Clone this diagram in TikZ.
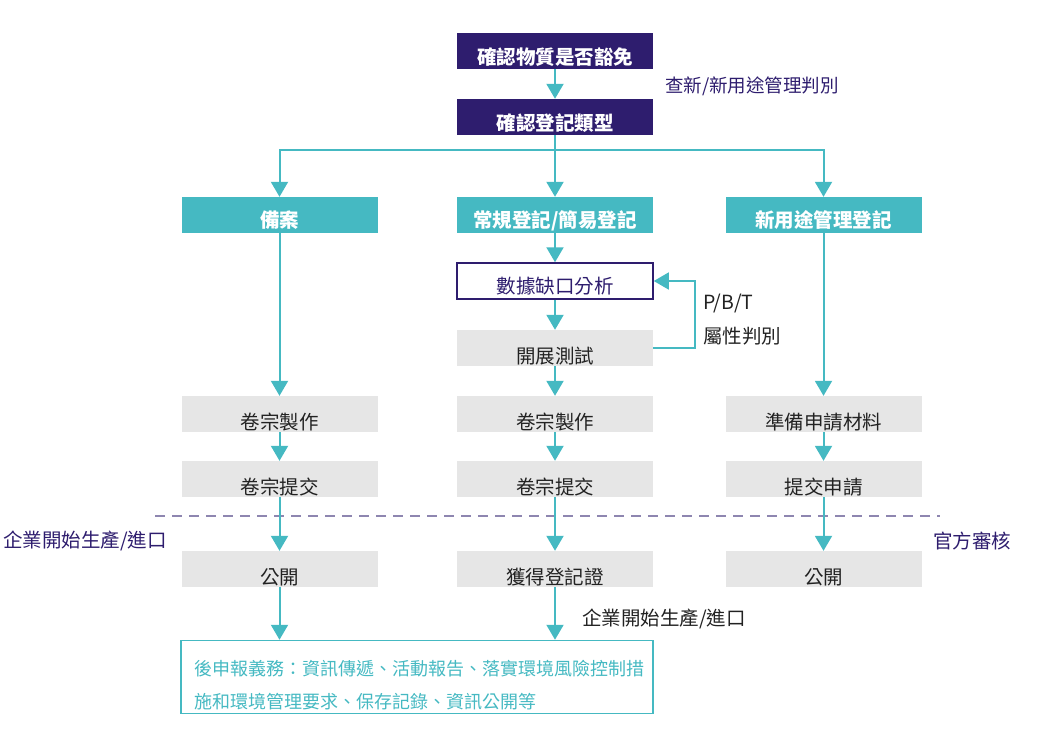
\documentclass[tikz,border=0pt]{standalone}
\usepackage{fontspec}
\setmainfont{Noto Sans CJK TC}
\usetikzlibrary{arrows.meta}
\definecolor{navy}{HTML}{2E1D6E}
\definecolor{teal1}{HTML}{45B9C2}
\definecolor{grey1}{HTML}{E6E6E6}
\definecolor{ink}{HTML}{222222}
\definecolor{dashc}{HTML}{8E86B0}
\begin{document}
\begin{tikzpicture}[x=1pt,y=-1pt,
  base/.style={minimum width=196pt, minimum height=36pt, inner sep=0pt, text height=31pt, text depth=0pt, font=\fontsize{19.5}{22}\selectfont},
  navybox/.style={base, fill=navy, text=white, font=\fontsize{19.5}{22}\selectfont\bfseries, text height=26.4pt},
  tealbox/.style={base, fill=teal1, text=white, font=\fontsize{19.5}{22}\selectfont\bfseries, text height=24.4pt},
  greybox/.style={base, fill=grey1, text=ink},
  outlinebox/.style={base, draw=navy, line width=1.5pt, fill=white, text=navy, text height=24.4pt},
  finalbox/.style={draw=teal1, line width=1.5pt, minimum width=472pt, minimum height=73pt, inner sep=0pt, align=left, text=teal1, font=\fontsize{18}{33.5}\selectfont, text width=446pt, text height=16pt, text depth=20pt},
  conn/.style={draw=teal1, line width=2pt, -{Triangle[width=17pt,length=15pt]}},
  lbl/.style={font=\fontsize{19.5}{22}\selectfont, inner sep=0pt, anchor=west},
  dashline/.style={draw=dashc, line width=1.5pt, dash pattern=on 10pt off 7pt}
]
\useasboundingbox (0,0) rectangle (1059,732);

\node[navybox] (n1) at (555,51) {確認物質是否豁免};
\node[navybox] (n2) at (555,117) {確認登記類型};
\node[tealbox] (a1) at (279.5,215) {備案};
\node[tealbox] (b1) at (555,215) {常規登記/簡易登記};
\node[tealbox] (c1) at (823.5,215) {新用途管理登記};
\node[outlinebox] (b2) at (555,281) {數據缺口分析};
\node[greybox] (b3) at (555,348) {開展測試};
\node[greybox] (a4) at (279.5,414) {卷宗製作};
\node[greybox] (b4) at (555,414) {卷宗製作};
\node[greybox] (c4) at (823.5,414) {準備申請材料};
\node[greybox] (a5) at (279.5,479) {卷宗提交};
\node[greybox] (b5) at (555,479) {卷宗提交};
\node[greybox] (c5) at (823.5,479) {提交申請};
\node[greybox] (a6) at (279.5,569) {公開};
\node[greybox] (b6) at (555,569) {獲得登記證};
\node[greybox] (c6) at (823.5,569) {公開};
\node[finalbox] (f) at (417,677) {後申報義務：資訊傳遞、活動報告、落實環境風險控制措\\施和環境管理要求、保存記錄、資訊公開等};

\node[lbl, text=navy, font=\fontsize{18.5}{22}\selectfont] (l1) at (665,86) {查新/新用途管理判別};
\node[lbl, text=ink] (l2) at (703,303) {P/B/T};
\node[lbl, text=ink] (l3) at (703,336) {屬性判別};
\node[lbl, text=navy] (l4) at (3,541) {企業開始生產/進口};
\node[lbl, text=navy] (l5) at (933,541) {官方審核};
\node[lbl, text=ink] (l6) at (582,619) {企業開始生產/進口};

\draw[dashline] (155,516) -- (940,516);

\draw[conn] (n1) -- (n2);
\draw[conn] (n2) -- (b1);
\draw[conn] (n2.south) -- ++(0,15) -| (a1.north);
\draw[conn] (n2.south) -- ++(0,15) -| (c1.north);
\draw[conn] (b1) -- (b2);
\draw[conn] (b2) -- (b3);
\draw[conn] (b3) -- (b4);
\draw[conn] (b4) -- (b5);
\draw[conn] (b5) -- (b6);
\draw[conn] (b6.south) -- (b6.south |- f.north);
\draw[conn] (a1) -- (a4);
\draw[conn] (a4) -- (a5);
\draw[conn] (a5) -- (a6);
\draw[conn] (a6.south) -- (a6.south |- f.north);
\draw[conn] (c1) -- (c4);
\draw[conn] (c4) -- (c5);
\draw[conn] (c5) -- (c6);
\draw[conn, line width=1.5pt] (b3.east) -- ++(42,0) |- (b2.east);
\end{tikzpicture}
\end{document}
